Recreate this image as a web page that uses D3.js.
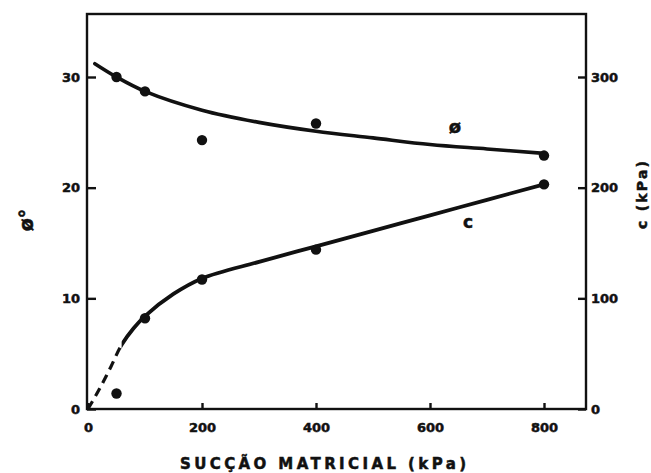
<!DOCTYPE html>
<html>
<head>
<meta charset="utf-8">
<script src="https://cdn.jsdelivr.net/npm/d3@7/dist/d3.min.js"></script>
<style>
  html, body { margin: 0; padding: 0; background: #fff; }
  svg { display: block; }
  text { font-family: "DejaVu Sans", sans-serif; font-weight: bold; fill: #111; stroke: #111; stroke-width: 0.5px; }
</style>
</head>
<body>
<svg id="chart" width="651" height="473"></svg>
<script>
// Matric suction (kPa) at which each test was run
const suction = [50, 100, 200, 400, 800];
// Friction angle (degrees) measured at each suction
const phiValues = [30.0, 28.7, 24.3, 25.8, 22.9];
// Cohesion (kPa) measured at each suction
const cValues = [14, 82, 117, 144, 203];

// Hand-fitted trend lines through the points
const phiFitX = [12, 50, 100, 200, 300, 400, 500, 600, 700, 800];
const phiFitY = [31.2, 30.0, 28.7, 27.0, 25.9, 25.1, 24.5, 23.9, 23.5, 23.1];
const cFitX = [59, 80, 100, 150, 200, 300, 400, 500, 600, 700, 800];
const cFitY = [58, 73, 84, 104, 118, 133, 147, 161, 175, 189, 203];
// Extrapolated start of the cohesion curve (drawn dashed, up to cFitX[0])
const cExtrapX = [0, 20, 40];
const cExtrapY = [0, 18, 38];

// Tick labels
const xTicks = [0, 200, 400, 600, 800];
const phiTicks = [0, 10, 20, 30];
const cTicks = [0, 100, 200, 300];

const ink = "#111";
const svg = d3.select("#chart");

const frame = { left: 87, right: 586, top: 14, bottom: 409 };
const x = d3.scaleLinear().domain([0, 800]).range([88, 544]);
const yPhi = d3.scaleLinear().domain([0, 30]).range([409, 77]);
const yC = d3.scaleLinear().domain([0, 300]).range([409, 77]);

// Clip regions splitting the cohesion curve into dashed and solid parts
const defs = svg.append("defs");
const splitX = x(cFitX[0]);
defs.append("clipPath").attr("id", "clip-dashed")
  .append("rect").attr("x", 0).attr("y", 0).attr("width", splitX).attr("height", 473);
defs.append("clipPath").attr("id", "clip-solid")
  .append("rect").attr("x", splitX).attr("y", 0).attr("width", 651 - splitX).attr("height", 473);

// Plot frame
svg.append("rect")
  .attr("x", frame.left).attr("y", frame.top)
  .attr("width", frame.right - frame.left)
  .attr("height", frame.bottom - frame.top)
  .attr("fill", "none").attr("stroke", ink).attr("stroke-width", 2.4);

function styleAxis(g) {
  g.select(".domain").remove();
  g.selectAll(".tick line").attr("stroke", ink).attr("stroke-width", 2.4);
  g.selectAll(".tick text").attr("font-size", 13).attr("fill", ink);
}

// Bottom axis (ticks point inward)
svg.append("g")
  .attr("transform", `translate(0,${frame.bottom})`)
  .call(d3.axisBottom(x).tickValues(xTicks).tickSize(-6).tickPadding(14))
  .call(styleAxis);

// Left axis: friction angle
svg.append("g")
  .attr("transform", `translate(${frame.left},0)`)
  .call(d3.axisLeft(yPhi).tickValues(phiTicks).tickSize(-9).tickPadding(7))
  .call(styleAxis);

// Right axis: cohesion
svg.append("g")
  .attr("transform", `translate(${frame.right},0)`)
  .call(d3.axisRight(yC).tickValues(cTicks).tickSize(-8).tickPadding(5))
  .call(styleAxis);

// Axis titles
svg.append("text")
  .attr("x", 323).attr("y", 469)
  .attr("text-anchor", "middle")
  .attr("font-size", 15)
  .attr("textLength", 286).attr("lengthAdjust", "spacing")
  .text("SUCÇÃO MATRICIAL (kPa)");

svg.append("text")
  .attr("transform", "translate(33,220) rotate(-90)")
  .attr("text-anchor", "middle")
  .attr("font-size", 19)
  .text("ø°");

svg.append("text")
  .attr("transform", "translate(647,195) rotate(-90)")
  .attr("text-anchor", "middle")
  .attr("font-size", 14)
  .attr("textLength", 68).attr("lengthAdjust", "spacing")
  .text("c (kPa)");

// Trend lines
const linePhi = d3.line().x(d => x(d[0])).y(d => yPhi(d[1])).curve(d3.curveCatmullRom.alpha(0.5));
const lineC = d3.line().x(d => x(d[0])).y(d => yC(d[1])).curve(d3.curveCatmullRom.alpha(0.5));

svg.append("path")
  .datum(d3.zip(phiFitX, phiFitY))
  .attr("d", linePhi)
  .attr("fill", "none").attr("stroke", ink).attr("stroke-width", 3.6)
  .attr("stroke-linecap", "round");

const cAll = d3.zip(cExtrapX.concat(cFitX), cExtrapY.concat(cFitY));

svg.append("path")
  .datum(cAll)
  .attr("d", lineC)
  .attr("clip-path", "url(#clip-solid)")
  .attr("fill", "none").attr("stroke", ink).attr("stroke-width", 3.8)
  .attr("stroke-linecap", "round");

svg.append("path")
  .datum(cAll)
  .attr("d", lineC)
  .attr("clip-path", "url(#clip-dashed)")
  .attr("fill", "none").attr("stroke", ink).attr("stroke-width", 3.2)
  .attr("stroke-dasharray", "9,6");

// Measured points
svg.append("g").selectAll("circle")
  .data(d3.zip(suction, phiValues))
  .join("circle")
  .attr("cx", d => x(d[0])).attr("cy", d => yPhi(d[1]))
  .attr("r", 5.2).attr("fill", ink);

svg.append("g").selectAll("circle")
  .data(d3.zip(suction, cValues))
  .join("circle")
  .attr("cx", d => x(d[0])).attr("cy", d => yC(d[1]))
  .attr("r", 5.2).attr("fill", ink);

// Curve labels
svg.append("text")
  .attr("x", 455).attr("y", 133)
  .attr("text-anchor", "middle")
  .attr("font-size", 18)
  .text("ø");

svg.append("text")
  .attr("x", 468).attr("y", 228)
  .attr("text-anchor", "middle")
  .attr("font-size", 17)
  .text("c");
</script>
</body>
</html>
